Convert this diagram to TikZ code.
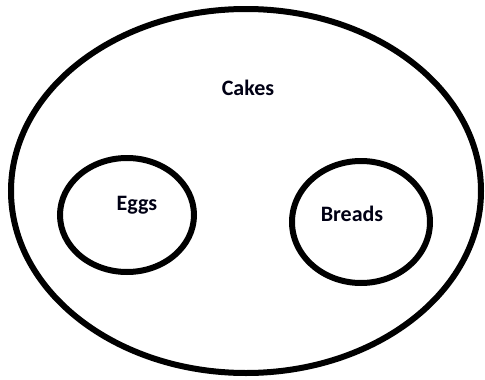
\documentclass[tikz,border=0pt]{standalone}
\usepackage{fontspec}
\setmainfont{Carlito}
\usetikzlibrary{positioning,shapes.geometric}

\begin{document}
\begin{tikzpicture}[
    x=1pt, y=-1pt,
    set/.style   = {draw, ellipse, line width=6pt, inner sep=0pt},
    setlbl/.style = {font=\fontsize{22}{25}\selectfont\bfseries, text=black!92!blue},
]
\useasboundingbox (0,0) rectangle (485,380);

% --- outer set ---
\node[set, minimum width=470pt, minimum height=364pt] (cakes) at (246,191) {};
\node[setlbl] (cakeslbl) at (248,88) {Cakes};

% --- inner sets ---
\node[set, minimum width=134pt, minimum height=114pt] (eggs) at (127,215) {};
\node[setlbl] (eggslbl) at (137,205) {Eggs};

\node[set, minimum width=138pt, minimum height=122pt] (breads) at (361,222) {};
\node[setlbl] (breadslbl) at (352,214) {Breads};

\end{tikzpicture}
\end{document}
